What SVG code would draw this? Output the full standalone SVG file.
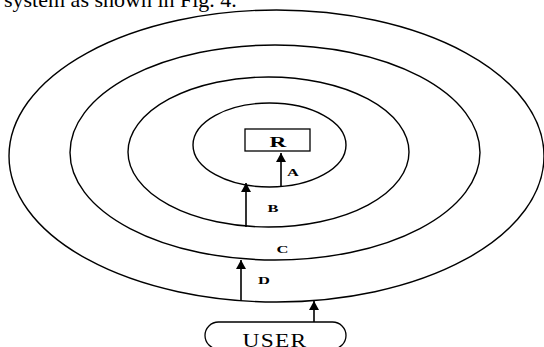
<svg xmlns="http://www.w3.org/2000/svg" width="544" height="347" viewBox="0 0 544 347">
  <style>
    .ring { fill: none; stroke: #000; stroke-width: 1.4; }
    .box { fill: #fff; stroke: #000; stroke-width: 1.3; }
    .link { stroke: #000; stroke-width: 1.6; fill: none; marker-end: url(#head); }
    .tag { font-family: "Liberation Serif", "Times New Roman", serif; font-weight: bold; fill: #000; text-anchor: middle; }
    .caption { font-family: "Liberation Serif", "Times New Roman", serif; fill: #000; }
  </style>
  <defs>
    <marker id="head" markerUnits="userSpaceOnUse" markerWidth="11" markerHeight="11" refX="9" refY="5.5" orient="auto">
      <path d="M0,0.5 L9,5.5 L0,10.5 Z" fill="#000"/>
    </marker>
  </defs>
  <rect width="544" height="347" fill="#fff"/>

  <!-- running text above the figure -->
  <text class="caption" x="4" y="7" font-size="22">system as shown in Fig. 4.</text>

  <!-- concentric layers, outermost first -->
  <g id="layer-outer"><ellipse class="ring" cx="276.5" cy="156" rx="267.5" ry="146"/></g>
  <g id="layer-c"><ellipse class="ring" cx="275" cy="152.5" rx="205" ry="107.5"/></g>
  <g id="layer-b"><ellipse class="ring" cx="268.5" cy="152" rx="140.5" ry="75"/></g>
  <g id="layer-a"><ellipse class="ring" cx="269.5" cy="145" rx="76.5" ry="42"/></g>

  <!-- core resource -->
  <g id="node-r">
    <rect class="box" x="245" y="129" width="65" height="22"/>
    <text class="tag" font-size="15" transform="translate(278,147) scale(1.55,1)">R</text>
  </g>

  <!-- user -->
  <g id="node-user">
    <rect class="box" x="205" y="322" width="141" height="27" rx="13.5" ry="13.5"/>
    <text class="caption" font-size="18" text-anchor="middle" letter-spacing="1" transform="translate(275,346.5) scale(1.3,1)">USER</text>
  </g>

  <!-- layer labels -->
  <g id="labels">
    <text class="tag" font-size="11" transform="translate(293,176) scale(1.5,1)">A</text>
    <text class="tag" font-size="11" transform="translate(273,211.5) scale(1.5,1)">B</text>
    <text class="tag" font-size="11" transform="translate(282.5,252.5) scale(1.5,1)">C</text>
    <text class="tag" font-size="11" transform="translate(264,283.5) scale(1.5,1)">D</text>
  </g>

  <!-- access arrows -->
  <g id="connectors">
    <line class="link" x1="281" y1="187" x2="281" y2="153"/>
    <line class="link" x1="246" y1="227" x2="246" y2="183"/>
    <line class="link" x1="241" y1="301" x2="241" y2="260"/>
    <line class="link" x1="314" y1="322" x2="314" y2="301"/>
  </g>
</svg>
